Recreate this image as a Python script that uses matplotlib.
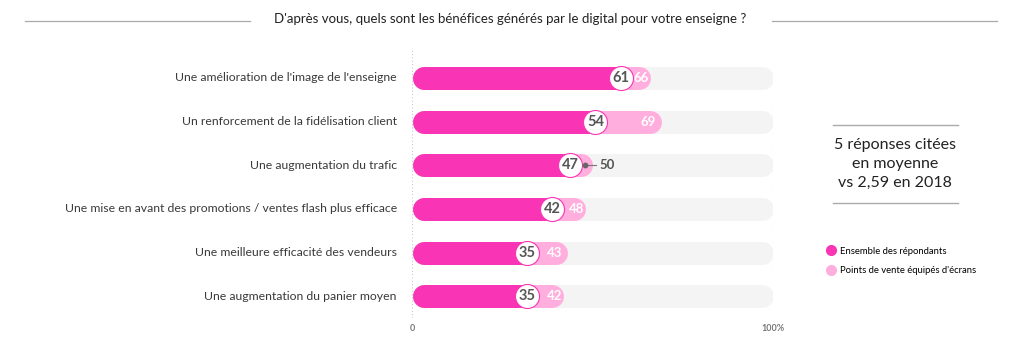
import matplotlib.pyplot as plt
from matplotlib.lines import Line2D

plt.rcParams['font.family'] = ['Lato', 'DejaVu Sans']

labels = ["Une amélioration de l'image de l'enseigne",
          "Un renforcement de la fidélisation client",
          "Une augmentation du trafic",
          "Une mise en avant des promotions / ventes flash plus efficace",
          "Une meilleure efficacité des vendeurs",
          "Une augmentation du panier moyen"]
ensemble = [61, 54, 47, 42, 35, 35]
ecrans = [66, 69, 50, 48, 43, 42]

pink = '#F935B5'
light = '#FFAEDD'
grey_bg = '#F4F4F4'
dark = '#555555'

W, H = 1023, 348
fig = plt.figure(figsize=(W / 100, H / 100), dpi=100)
x0, x1 = 412, 773
ax = fig.add_axes([x0 / W, 1 - 318 / H, (x1 - x0) / W, (318 - 50) / H])
ax.set_xlim(0, 100)
ax.set_ylim(5.5, -0.64)
ax.axis('off')

px = 100 / (x1 - x0)          # data units per pixel
bar_h = 23                    # bar thickness in pixels
lw = bar_h * 0.72
r = bar_h / 2 * px

for x in (0, 100):
    ax.axvline(x, color='#C8C8C8', lw=0.8, ls=(0, (1, 2)), zorder=0)

for i, (lab, a, b) in enumerate(zip(labels, ensemble, ecrans)):
    ax.plot([r, 100 - r], [i, i], color=grey_bg, lw=lw, solid_capstyle='round', zorder=1)
    ax.plot([r, b - r], [i, i], color=light, lw=lw, solid_capstyle='round', zorder=2)
    ax.plot([r, a - r], [i, i], color=pink, lw=lw, solid_capstyle='round', zorder=3)
    ax.scatter([a - r], [i], s=(24 * 0.72) ** 2, color='white', edgecolor=pink,
               linewidth=0.8, zorder=4)
    ax.text(a - r, i, str(a), ha='center', va='center', fontsize=10.5,
            fontweight='bold', color=dark, zorder=5)
    if b - a >= 5:
        ax.text(b - 0.4 if b - a < 8 else b - 1.5, i, str(b), ha='right', va='center',
                fontsize=9.5, fontweight='bold', color='white', zorder=5)
    else:
        ax.plot([b - 2.2, b + 1.0], [i, i], color='#777777', lw=0.8, zorder=5)
        ax.scatter([b - 2.2], [i], s=10, color='#666666', zorder=6)
        ax.text(b + 1.8, i, str(b), ha='left', va='center', fontsize=9.5,
                fontweight='bold', color=dark, zorder=5)
    ax.text(-4.2, i, lab, ha='right', va='center', fontsize=8.8, color='#3A3A3A')

ax.text(0, 5.75, '0', ha='center', va='center', fontsize=6.5, fontweight='bold',
        color='#777777', clip_on=False)
ax.text(100, 5.75, '100%', ha='center', va='center', fontsize=6.5, fontweight='bold',
        color='#777777', clip_on=False)

# title with side rules
fig.text(510 / W, 1 - 19 / H, "D'après vous, quels sont les bénéfices générés par le digital pour votre enseigne ?",
         ha='center', va='center', fontsize=9.5, color='#222222')
for xa, xb in ((25, 250), (772, 997)):
    fig.add_artist(Line2D([xa / W, xb / W], [1 - 21 / H, 1 - 21 / H], color='#AAAAAA', lw=0.9))

# side note
for y in (125, 203):
    fig.add_artist(Line2D([833 / W, 958 / W], [1 - y / H, 1 - y / H], color='#AAAAAA', lw=1.0))
fig.text(895 / W, 1 - 164 / H, "5 réponses citées\nen moyenne\nvs 2,59 en 2018",
         ha='center', va='center', fontsize=11.5, color='#222222', linespacing=1.45)

handles = [Line2D([], [], marker='o', ls='', color=pink, markersize=7, label='Ensemble des répondants'),
           Line2D([], [], marker='o', ls='', color=light, markersize=7, label="Points de vente équipés d'écrans")]
fig.legend(handles=handles, loc='upper left', bbox_to_anchor=(820 / W, 1 - 242 / H),
           frameon=False, fontsize=6.8, handletextpad=0.2, labelspacing=1.1, borderpad=0,
           handlelength=1.4)

fig.savefig('out.png', dpi=100)
